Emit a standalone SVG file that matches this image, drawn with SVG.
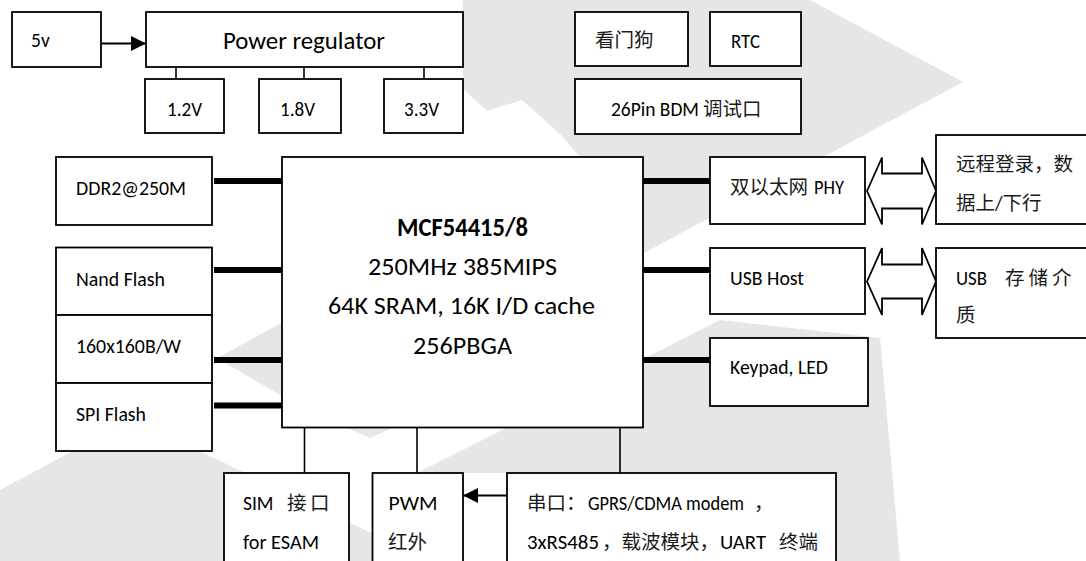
<svg xmlns="http://www.w3.org/2000/svg" width="1086" height="561" viewBox="0 0 1086 561">
<style>
.box{fill:#fff;stroke:#000;stroke-width:1.8}
.t{font-family:Carlito,Calibri,Lato,"Noto Sans CJK SC",sans-serif;font-size:19.5px;fill:#000}
.c{font-family:"Noto Sans CJK SC",sans-serif;font-size:19.5px;fill:#1a1a1a}
.big{font-size:24px}
.cpu{font-size:25.5px;text-anchor:middle}
.b{font-weight:bold}
.bus{stroke:#000;stroke-width:6}
.thin{stroke:#000;stroke-width:1.6;fill:none}
.ln{stroke:#000;stroke-width:2}
.dbl{fill:#fff;stroke:#000;stroke-width:1.8;stroke-linejoin:miter}
.wm{fill:#e6e6e6}
</style>
<defs>
<marker id="ah" viewBox="0 0 15 15" refX="15" refY="7.5" markerWidth="15" markerHeight="15" markerUnits="userSpaceOnUse" orient="auto">
<path d="M0,0 L15,7.5 L0,15 z" fill="#000"/>
</marker>
</defs>
<rect width="1086" height="561" fill="#fff"/>

<g id="watermark">
<polygon class="wm" points="463,0 810,0 963,82 643,253.5 580,157 560,134 522,100 487,111 463,89"/>
<polygon class="wm" points="217,358 285,321 285,398"/>
<polygon class="wm" points="345,427 370,438 395,427"/>
<polygon class="wm" points="417,473 641,360 720,320 880,338 900,561 836,561 836,473"/>
<polygon class="wm" points="0,490 132,419 430,561 0,561"/>
</g>

<g id="connectors">
<line class="ln" x1="101" y1="43.5" x2="146" y2="43.5" marker-end="url(#ah)"/>
<line class="thin" x1="176" y1="67" x2="176" y2="79"/>
<line class="thin" x1="304" y1="67" x2="304" y2="79"/>
<line class="thin" x1="424" y1="67" x2="424" y2="79"/>
<line class="bus" x1="214" y1="181" x2="282" y2="181"/>
<line class="bus" x1="214" y1="270" x2="282" y2="270"/>
<line class="bus" x1="214" y1="360" x2="282" y2="360"/>
<line class="bus" x1="214" y1="405.5" x2="282" y2="405.5"/>
<line class="bus" x1="643" y1="181" x2="710" y2="181"/>
<line class="bus" x1="643" y1="270" x2="710" y2="270"/>
<line class="bus" x1="643" y1="360" x2="710" y2="360"/>
<line class="thin" x1="304.5" y1="427" x2="304.5" y2="473"/>
<line class="thin" x1="417" y1="427" x2="417" y2="473"/>
<line class="thin" x1="620" y1="427" x2="620" y2="473"/>
<line class="ln" x1="507" y1="495.5" x2="463" y2="495.5" marker-end="url(#ah)"/>
<polygon class="dbl" points="867,191 882,157.5 882,173.5 922,173.5 922,157.5 936,191 922,224.5 922,208.5 882,208.5 882,224.5"/>
<polygon class="dbl" points="867,281.5 882,248 882,264.5 922,264.5 922,248 936,281.5 922,315 922,298.5 882,298.5 882,315"/>
</g>

<g id="n5v"><rect class="box" x="12" y="12" width="89" height="55"/><text class="t" x="31" y="46.5">5v</text></g>
<g id="power"><rect class="box" x="146" y="12" width="317" height="55"/><text class="t big" x="223" y="48.5" textLength="162" lengthAdjust="spacingAndGlyphs">Power regulator</text></g>
<g id="v12"><rect class="box" x="145" y="79" width="79" height="54"/><text class="t" x="167" y="116" textLength="35" lengthAdjust="spacingAndGlyphs">1.2V</text></g>
<g id="v18"><rect class="box" x="259" y="79" width="82" height="54"/><text class="t" x="280" y="116" textLength="35" lengthAdjust="spacingAndGlyphs">1.8V</text></g>
<g id="v33"><rect class="box" x="384" y="79" width="79" height="54"/><text class="t" x="404" y="116" textLength="35" lengthAdjust="spacingAndGlyphs">3.3V</text></g>
<g id="wdt"><rect class="box" x="575" y="12" width="113" height="54"/><text class="c" x="595" y="47">看门狗</text></g>
<g id="rtc"><rect class="box" x="710" y="12" width="91" height="54"/><text class="t" x="731" y="47.5" textLength="29" lengthAdjust="spacingAndGlyphs">RTC</text></g>
<g id="bdm"><rect class="box" x="575" y="79" width="226" height="55"/><text class="t" x="611" y="115.5"><tspan textLength="88" lengthAdjust="spacingAndGlyphs">26Pin BDM</tspan><tspan class="c" x="703">调试口</tspan></text></g>

<g id="ddr"><rect class="box" x="56" y="157" width="156" height="68"/><text class="t" x="76" y="194.5" textLength="110" lengthAdjust="spacingAndGlyphs">DDR2@250M</text></g>
<g id="nand"><rect class="box" x="56" y="247.5" width="156" height="67.5"/><text class="t" x="76" y="285.5" textLength="89" lengthAdjust="spacingAndGlyphs">Nand Flash</text></g>
<g id="lcd"><rect class="box" x="56" y="315" width="156" height="68"/><text class="t" x="76" y="352.5" textLength="105" lengthAdjust="spacingAndGlyphs">160x160B/W</text></g>
<g id="spi"><rect class="box" x="56" y="383" width="156" height="68"/><text class="t" x="76" y="420.5" textLength="70" lengthAdjust="spacingAndGlyphs">SPI Flash</text></g>

<g id="cpu"><rect class="box" x="282" y="157" width="361" height="270.5"/>
<text class="t cpu b" x="462.5" y="235.5" textLength="131" lengthAdjust="spacingAndGlyphs">MCF54415/8</text>
<text class="t cpu" x="462.5" y="275" textLength="189" lengthAdjust="spacingAndGlyphs">250MHz 385MIPS</text>
<text class="t cpu" x="461.5" y="314" textLength="267" lengthAdjust="spacingAndGlyphs">64K SRAM, 16K I/D cache</text>
<text class="t cpu" x="462.5" y="353.5" textLength="99" lengthAdjust="spacingAndGlyphs">256PBGA</text>
</g>

<g id="phy"><rect class="box" x="710" y="157" width="155" height="67"/><text class="t" x="730" y="194"><tspan class="c">双以太网</tspan><tspan x="814" textLength="30" lengthAdjust="spacingAndGlyphs">PHY</tspan></text></g>
<g id="usbhost"><rect class="box" x="710" y="248" width="155" height="66"/><text class="t" x="730" y="285" textLength="74" lengthAdjust="spacingAndGlyphs">USB Host</text></g>
<g id="keypad"><rect class="box" x="710" y="338" width="158" height="68"/><text class="t" x="730" y="374" textLength="98" lengthAdjust="spacingAndGlyphs">Keypad, LED</text></g>
<g id="remote"><rect class="box" x="936" y="135" width="160" height="89"/>
<text class="c" x="956" y="171">远程登录，数</text>
<text class="c" x="956" y="209.5">据上<tspan class="t">/</tspan>下行</text></g>
<g id="usbstore"><rect class="box" x="936" y="248" width="160" height="90"/>
<text class="t" x="956" y="285"><tspan textLength="31" lengthAdjust="spacingAndGlyphs">USB</tspan><tspan class="c" x="1005">存</tspan><tspan class="c" x="1028.5">储</tspan><tspan class="c" x="1052">介</tspan></text>
<text class="c" x="956" y="322">质</text></g>

<g id="sim"><rect class="box" x="224" y="473" width="125" height="120"/>
<text class="t" x="243" y="510"><tspan>SIM</tspan><tspan class="c" x="287">接</tspan><tspan class="c" x="310">口</tspan></text>
<text class="t" x="243" y="549" textLength="76" lengthAdjust="spacingAndGlyphs">for ESAM</text></g>
<g id="pwm"><rect class="box" x="372.5" y="473" width="90.5" height="120"/>
<text class="t" x="388.5" y="510" textLength="49" lengthAdjust="spacingAndGlyphs">PWM</text>
<text class="c" x="388" y="549">红外</text></g>
<g id="serial"><rect class="box" x="507" y="473" width="329" height="120"/>
<text class="t" x="527" y="510"><tspan class="c">串口：</tspan><tspan x="588" textLength="156" lengthAdjust="spacingAndGlyphs">GPRS/CDMA modem</tspan><tspan class="c" x="754">，</tspan></text>
<text class="t" x="527" y="549"><tspan textLength="72" lengthAdjust="spacingAndGlyphs">3xRS485</tspan><tspan class="c" x="602">，载波模块，</tspan><tspan x="720" textLength="46" lengthAdjust="spacingAndGlyphs">UART</tspan><tspan class="c" x="779">终端</tspan></text></g>
</svg>
